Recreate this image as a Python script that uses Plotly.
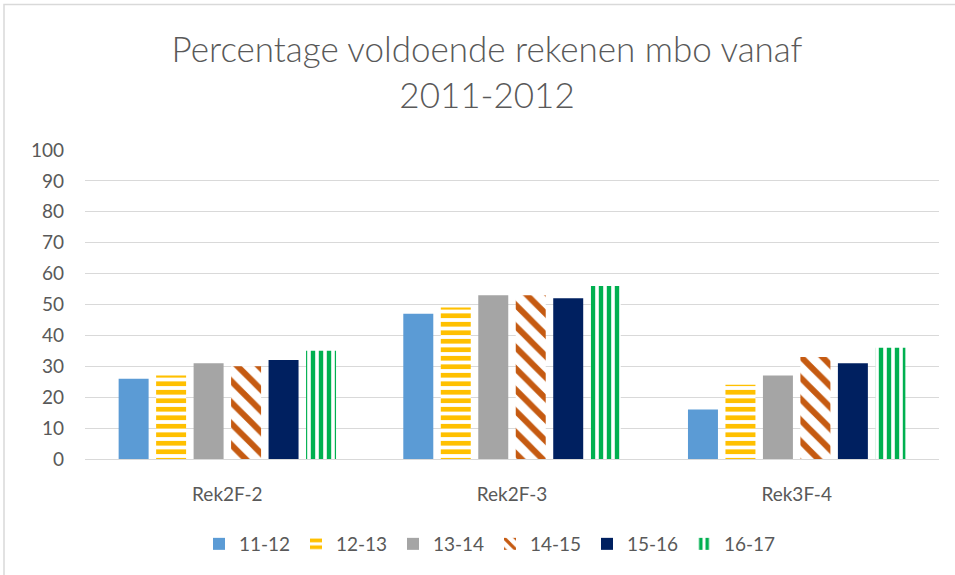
import plotly.graph_objects as go

categories = ["Rek2F-2", "Rek2F-3", "Rek3F-4"]
series_names = ["11-12", "12-13", "13-14", "14-15", "15-16", "16-17"]
v_11_12 = [26, 47, 16]
v_12_13 = [27, 49, 24]
v_13_14 = [31, 53, 27]
v_14_15 = [30, 53, 33]
v_15_16 = [32, 52, 31]
v_16_17 = [35, 56, 36]
values = [v_11_12, v_12_13, v_13_14, v_14_15, v_15_16, v_16_17]
y_ticks = list(range(0, 101, 10))

colors = ["#5B9BD5", "#FFC000", "#A5A5A5", "#C55A11", "#002060", "#00B050"]
patterns = [
    None,
    dict(shape="-", fgcolor="#FFC000", bgcolor="white", fgopacity=1, size=8.5, solidity=0.55),
    None,
    dict(shape="\\", fgcolor="#C55A11", bgcolor="white", fgopacity=1, size=15, solidity=0.4),
    None,
    dict(shape="|", fgcolor="#00B050", bgcolor="white", fgopacity=1, size=8, solidity=0.55),
]

FONT = "Lato"
GRAY = "#595959"

fig = go.Figure()
for name, vals, col, pat in zip(series_names, values, colors, patterns):
    marker = dict(color=col if pat is None else "white", line=dict(width=0))
    if pat is not None:
        marker["pattern"] = pat
    fig.add_trace(go.Bar(name=name, x=categories, y=vals, marker=marker))

fig.update_layout(
    width=955, height=575,
    margin=dict(l=85, r=16, t=150, b=116, autoexpand=False),
    paper_bgcolor="white", plot_bgcolor="white",
    barmode="group", bargap=0.21, bargroupgap=0.2,
    title=dict(
        text="Percentage voldoende rekenen mbo vanaf<br>2011-2012",
        x=0.51, xanchor="center", xref="container",
        y=1 - 62 / 575, yanchor="top", yref="container",
        font=dict(family=FONT, size=35, color=GRAY, weight=300),
    ),
    font=dict(family=FONT, color=GRAY, size=19),
    legend=dict(
        orientation="h", xref="container", yref="container",
        x=490 / 955, xanchor="center", y=1 - 544 / 575, yanchor="middle",
        font=dict(family=FONT, size=19, color=GRAY),
        itemwidth=30, traceorder="normal",
        entrywidth=52, entrywidthmode="pixels",
    ),
    xaxis=dict(
        showgrid=False, showline=True, linecolor="#D9D9D9", linewidth=1,
        ticks="", ticklabelstandoff=18,
        tickfont=dict(family=FONT, size=19, color=GRAY),
    ),
    yaxis=dict(
        range=[0, 100], tickvals=y_ticks, showgrid=True, gridcolor="#D9D9D9",
        gridwidth=1, zeroline=False, showline=False, ticks="",
        ticklabelstandoff=20,
        tickfont=dict(family=FONT, size=19, color=GRAY),
    ),
    shapes=[dict(
        type="rect", xref="paper", yref="paper",
        x0=(4 - 85) / 854, x1=1.3, y0=-0.8, y1=(459 - 4.5) / 309,
        line=dict(color="#D9D9D9", width=1.5), fillcolor="rgba(0,0,0,0)", layer="below",
    )],
)

fig.write_html("out.html", config={"displayModeBar": False},
               post_script="document.body.style.margin='0';")
